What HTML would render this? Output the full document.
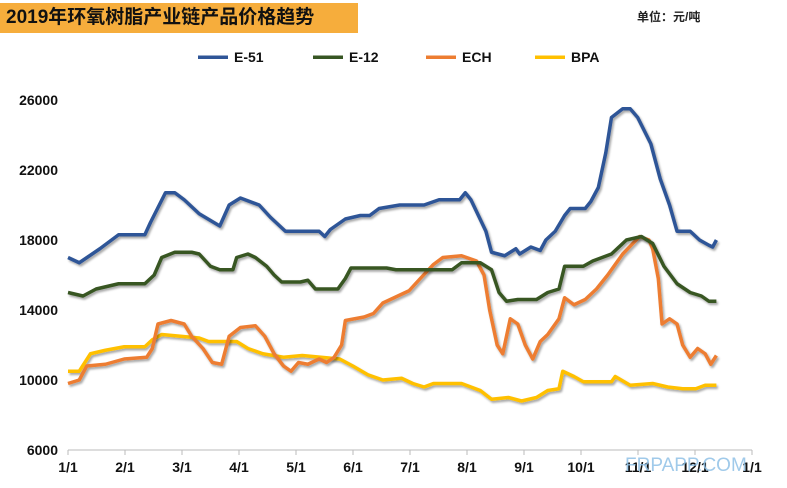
<!DOCTYPE html>
<html><head><meta charset="utf-8">
<style>
body{margin:0;background:#fff;width:787px;height:488px;overflow:hidden;font-family:"Liberation Sans","Noto Sans CJK SC",sans-serif}
#title{position:absolute;left:0;top:3px;width:358px;height:30px;background:#f6ad3c;font-weight:bold;font-size:19px;line-height:30px;padding-left:6px;box-sizing:border-box;color:#111}
#unit{position:absolute;left:637px;top:8px;font-size:12px;font-weight:bold;color:#222}
svg{position:absolute;left:0;top:0}
</style></head><body>
<div id="title">2019年环氧树脂产业链产品价格趋势</div>
<div id="unit">单位：元/吨</div>
<svg id="chart" width="787" height="488"></svg>
<script>
const monthLabels=["1/1","2/1","3/1","4/1","5/1","6/1","7/1","8/1","9/1","10/1","11/1","12/1","1/1"];
const yTicks=[6000,10000,14000,18000,22000,26000];
const seriesNames=["E-51","E-12","ECH","BPA"];
const e51Days=[0,6,17,27,41,44,52,57,62,70,81,86,92,102,108,116,134,137,140,148,156,161,166,177,190,198,209,212,215,223,226,233,239,241,247,252,255,260,265,268,276,279,283,287,290,296,300,304,311,316,321,325,332,337,342,344,346];
const e51Vals=[17000,16700,17500,18300,18300,19000,20700,20700,20300,19500,18800,20000,20400,20000,19300,18500,18500,18200,18600,19200,19400,19400,19800,20000,20000,20300,20300,20700,20300,18500,17300,17100,17500,17200,17600,17400,18000,18500,19400,19800,19800,20200,21000,23000,25000,25500,25500,25000,23500,21500,20000,18500,18500,18000,17700,17600,18000];
const e12Days=[0,8,15,27,41,46,50,57,66,70,76,81,88,90,96,100,106,110,114,124,128,132,144,148,151,170,175,205,210,220,226,230,234,240,250,256,262,265,275,280,290,298,306,312,318,325,332,338,342,346];
const e12Vals=[15000,14800,15200,15500,15500,16000,17000,17300,17300,17200,16500,16300,16300,17000,17200,17000,16500,16000,15600,15600,15700,15200,15200,15800,16400,16400,16300,16300,16700,16700,16300,15000,14500,14600,14600,15000,15200,16500,16500,16800,17200,18000,18200,17800,16500,15500,15000,14800,14500,14500];
const echDays=[0,6,10,20,30,42,45,48,55,62,66,72,77,82,86,92,100,105,110,115,119,123,128,134,138,142,146,148,158,163,168,176,182,188,195,200,210,218,222,225,229,232,236,240,244,248,252,256,262,265,270,276,282,288,296,305,310,312,315,317,321,325,328,332,336,340,343,346];
const echVals=[9800,10000,10800,10900,11200,11300,11800,13200,13400,13200,12500,11800,11000,10900,12500,13000,13100,12500,11500,10800,10500,11000,10900,11200,11000,11300,12000,13400,13600,13800,14400,14800,15100,15800,16600,17000,17100,16800,16000,14000,12000,11500,13500,13200,12000,11200,12200,12600,13500,14700,14300,14600,15200,16000,17200,18200,18000,17500,15800,13200,13500,13200,12000,11300,11800,11500,10900,11400];
const bpaDays=[0,6,12,20,30,41,45,50,60,70,75,90,96,104,115,125,135,145,152,160,168,178,184,190,195,210,220,226,235,242,250,256,262,264,270,275,290,292,300,312,320,328,335,340,346];
const bpaVals=[10500,10500,11500,11700,11900,11900,12300,12600,12500,12400,12200,12200,11800,11500,11300,11400,11300,11200,10800,10300,10000,10100,9800,9600,9800,9800,9400,8900,9000,8800,9000,9400,9500,10500,10200,9900,9900,10200,9700,9800,9600,9500,9500,9700,9700];
const colors=["#2f5597","#375623","#ed7d31","#ffc000"];
const X0=68,X1=752,Y0=450,Y1=100;
const xs=d=>X0+d*(X1-X0)/365;
const ys=v=>Y0-(v-6000)*(Y0-Y1)/20000;
const svg=document.getElementById('chart');
const NS="http://www.w3.org/2000/svg";
function mk(t,a){const e=document.createElementNS(NS,t);for(const k in a)e.setAttribute(k,a[k]);svg.appendChild(e);return e;}
const defs=mk('defs',{});
defs.innerHTML='<filter id="sh" x="-5%" y="-5%" width="110%" height="115%"><feDropShadow dx="1.5" dy="2" stdDeviation="1" flood-color="#000" flood-opacity="0.35"/></filter>';
yTicks.forEach(v=>{const t=mk('text',{x:58,y:ys(v)+5,'text-anchor':'end','font-size':14,'font-weight':'bold',fill:'#111'});t.textContent=v;

});
const ax=mk('line',{x1:X0,y1:Y0,x2:X1,y2:Y0,stroke:'#bbb','stroke-width':1});


monthLabels.forEach((m,i)=>{const x=X0+i*(X1-X0)/12;
const tk=mk('line',{x1:x,y1:Y0,x2:x,y2:Y0+5,stroke:'#bbb'});


const t=mk('text',{x:x,y:472,'text-anchor':'middle','font-size':14,'font-weight':'bold',fill:'#111'});t.textContent=m;

});
const wm=mk('text',{x:625,y:471,'font-size':19,fill:'#8fc1e6','fill-opacity':0.85});wm.textContent="FRPAPP.COM";


const allDays=[e51Days,e12Days,echDays,bpaDays],allVals=[e51Vals,e12Vals,echVals,bpaVals];
const order=[3,2,1,0];
order.forEach(i=>{const pts=allDays[i].map((d,j)=>xs(d)+','+ys(allVals[i][j])).join(' ');
const p=mk('polyline',{points:pts,fill:'none',stroke:colors[i],'stroke-width':3.5,'stroke-linejoin':'round',filter:'url(#sh)'});

});
const legX=[198,313,426,535];
seriesNames.forEach((n,i)=>{
const l=mk('rect',{x:legX[i],y:55.5,width:30,height:3.5,fill:colors[i]});


const t=mk('text',{x:legX[i]+36,y:62,'font-size':14,'font-weight':'bold',fill:'#111'});t.textContent=n;

});
</script>
</body></html>
